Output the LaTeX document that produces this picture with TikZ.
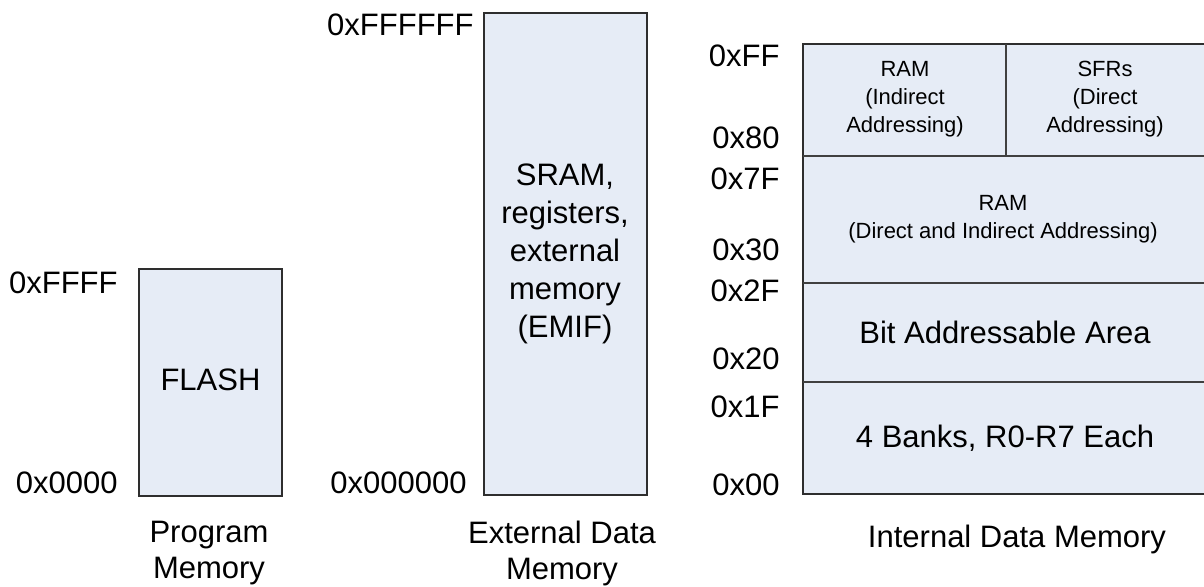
\documentclass[tikz,border=0pt]{standalone}
\usepackage{fontspec}
\setmainfont{Liberation Sans}
\definecolor{memfill}{HTML}{E6ECF6}
\definecolor{memline}{HTML}{2E2E2E}
\definecolor{cellline}{HTML}{404040}
\begin{document}
\begin{tikzpicture}[x=0.5pt,y=-0.5pt,
  region/.style={draw=memline,fill=memfill,line width=0.75pt},
  divider/.style={draw=cellline,line width=0.6pt},
  big/.style={font=\fontsize{15.5}{19}\selectfont,inner sep=0pt,align=center},
  small/.style={font=\fontsize{11}{14}\selectfont,inner sep=0pt,align=center},
  addr/.style={font=\fontsize{15.5}{19}\selectfont,inner sep=0pt,anchor=east},
  caption/.style={font=\fontsize{15.5}{18}\selectfont,inner sep=0pt,align=center}]
\useasboundingbox (0,0) rectangle (1204,587);

% Program memory
\draw[region] (139,269) rectangle (282,496);
\node[big] (flash) at (210.5,380) {FLASH};
\node[addr] (pTop) at (118,283) {0xFFFF};
\node[addr] (pBot) at (118,483) {0x0000};
\node[caption] (pCap) at (209,553) {Program\\Memory};

% External data memory
\draw[region] (484,13) rectangle (647,495);
\node[big] (emif) at (565,254) {SRAM,\\registers,\\external\\memory\\(EMIF)};
\node[addr] (eTop) at (474,25) {0xFFFFFF};
\node[addr] (eBot) at (467,483) {0x000000};
\node[caption] (eCap) at (562,553) {External Data\\Memory};

% Internal data memory
\draw[region] (803,44) rectangle (1206,494);
\draw[divider] (803,156) -- (1206,156);
\draw[divider] (803,283) -- (1206,283);
\draw[divider] (803,382) -- (1206,382);
\draw[divider] (1006,44) -- (1006,156);
\node[small] (ramInd) at (905,99.5) {RAM\\(Indirect\\Addressing)};
\node[small] (sfr) at (1105,99.5) {SFRs\\(Direct\\Addressing)};
\node[small] (ramDir) at (1003,219) {RAM\\(Direct and Indirect Addressing)};
\node[big] (bitArea) at (1005,332) {Bit Addressable Area};
\node[big] (banks) at (1005,438) {4 Banks, R0-R7 Each};

\node[addr] (aFF) at (780,56) {0xFF};
\node[addr] (a80) at (780,138) {0x80};
\node[addr] (a7F) at (780,179) {0x7F};
\node[addr] (a30) at (780,250) {0x30};
\node[addr] (a2F) at (780,291) {0x2F};
\node[addr] (a20) at (780,359) {0x20};
\node[addr] (a1F) at (780,407) {0x1F};
\node[addr] (a00) at (780,485) {0x00};
\node[caption] (iCap) at (1017,539) {Internal Data Memory};
\end{tikzpicture}
\end{document}
